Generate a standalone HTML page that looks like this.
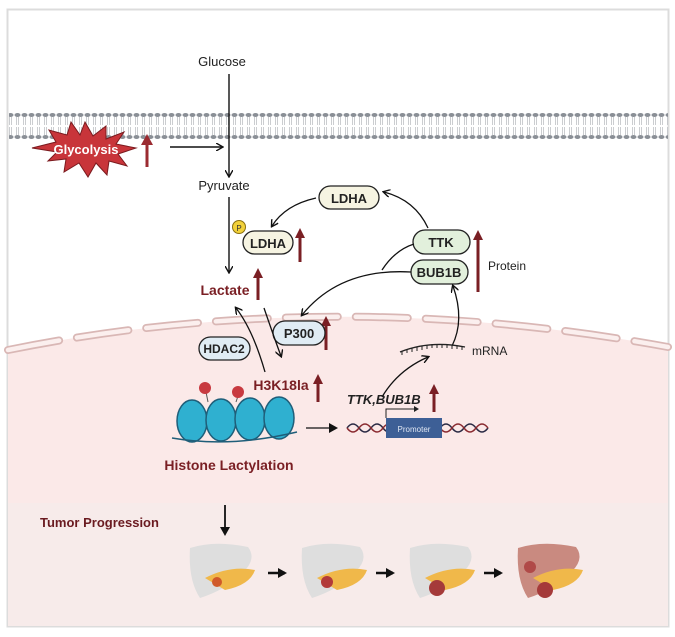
<!DOCTYPE html>
<html><head><meta charset="utf-8"><style>
body{margin:0;background:#fff;}
svg{display:block;font-family:"Liberation Sans",Arial,sans-serif;}
</style></head><body>
<svg width="675" height="637" viewBox="0 0 675 637" xmlns="http://www.w3.org/2000/svg">
<defs>
<marker id="ah" markerWidth="8" markerHeight="8" refX="6" refY="4" orient="auto" markerUnits="userSpaceOnUse"><path d="M0,0 L7,4 L0,8" fill="none" stroke="#111" stroke-width="1.4"/></marker>
<marker id="af" markerWidth="10" markerHeight="10" refX="7" refY="5" orient="auto" markerUnits="userSpaceOnUse"><path d="M0,0 L9,5 L0,10 Z" fill="#111"/></marker>
<pattern id="mem" width="7" height="28" patternUnits="userSpaceOnUse">
<ellipse cx="3.5" cy="3" rx="3" ry="2" fill="#8a8f96"/>
<ellipse cx="3.5" cy="25" rx="3" ry="2" fill="#8a8f96"/>
<path d="M2.5,5 L2.5,13 M4.5,5 L4.5,13 M2.5,15 L2.5,23 M4.5,15 L4.5,23" stroke="#b5b8bd" stroke-width="0.7"/>
</pattern>
</defs>
<rect x="0" y="0" width="675" height="637" fill="#fff"/>
<rect x="7.5" y="9.5" width="661" height="617" fill="#fff" stroke="#dcdcdc" stroke-width="2"/>
<path d="M8,350 Q330,285 668,347 L668,503 L8,503 Z" fill="#fbe9e8"/>
<rect x="8" y="503" width="660" height="123" fill="#f7ebea"/>
<path d="M8,350 Q330,285 668,347" fill="none" stroke="#d9b7b5" stroke-width="8" stroke-dasharray="52,18" stroke-linecap="round"/>
<path d="M8,350 Q330,285 668,347" fill="none" stroke="#fbefee" stroke-width="4.5" stroke-dasharray="52,18" stroke-linecap="round"/>
<rect x="9" y="113" width="659" height="28" fill="url(#mem)"/>
<text x="222" y="66" font-size="13" text-anchor="middle" fill="#222">Glucose</text>
<line x1="229" y1="74" x2="229" y2="176" stroke="#111" stroke-width="1.4" marker-end="url(#ah)"/>
<polygon points="85,122 93,136 106,126 106,139 124,132 116,144 136,148 118,154 127,166 109,161 107,175 96,163 88,177 79,163 64,172 66,159 48,161 57,152 32,148 56,142 49,130 67,135 71,122 80,135" fill="#c8353a" stroke="#7a1a1e" stroke-width="1"/>
<text x="86" y="154" font-size="13" font-weight="bold" text-anchor="middle" fill="#fff">Glycolysis</text>
<line x1="147" y1="167" x2="147" y2="143" stroke="#9b2b31" stroke-width="3"/>
<polygon points="141,145 147,134 153,145" fill="#9b2b31"/>
<line x1="170" y1="147" x2="222" y2="147" stroke="#111" stroke-width="1.4" marker-end="url(#ah)"/>
<text x="224" y="190" font-size="13" text-anchor="middle" fill="#222">Pyruvate</text>
<line x1="229" y1="197" x2="229" y2="272" stroke="#111" stroke-width="1.4" marker-end="url(#ah)"/>
<text x="225" y="295" font-size="14" font-weight="bold" text-anchor="middle" fill="#7a1f24">Lactate</text>
<g fill="#7a1f24" stroke="#7a1f24">
<line x1="258" y1="300" x2="258" y2="276" stroke-width="3"/><polygon points="253,278 258,268 263,278" stroke="none"/>
<line x1="300" y1="262" x2="300" y2="236" stroke-width="3"/><polygon points="295,238 300,228 305,238" stroke="none"/>
<line x1="478" y1="292" x2="478" y2="238" stroke-width="3"/><polygon points="473,240 478,230 483,240" stroke="none"/>
<line x1="326" y1="350" x2="326" y2="324" stroke-width="3"/><polygon points="321,326 326,316 331,326" stroke="none"/>
<line x1="318" y1="402" x2="318" y2="382" stroke-width="3"/><polygon points="313,384 318,374 323,384" stroke="none"/>
<line x1="434" y1="412" x2="434" y2="392" stroke-width="3"/><polygon points="429,394 434,384 439,394" stroke="none"/>
</g>
<rect x="319" y="186" width="60" height="23" rx="11.5" fill="#f6f4e2" stroke="#222" stroke-width="1.3"/>
<text x="349" y="203" font-size="13" font-weight="bold" text-anchor="middle" fill="#222">LDHA</text>
<rect x="243" y="231" width="50" height="23" rx="11.5" fill="#f6f4e2" stroke="#222" stroke-width="1.3"/>
<text x="268" y="248" font-size="13" font-weight="bold" text-anchor="middle" fill="#222">LDHA</text>
<circle cx="239" cy="227" r="6.5" fill="#f2d13a" stroke="#8a7010" stroke-width="1"/>
<text x="239" y="231" font-size="8" text-anchor="middle" fill="#333">P</text>
<rect x="413" y="230" width="57" height="24" rx="12" fill="#e2f0dc" stroke="#222" stroke-width="1.3"/>
<text x="441" y="247" font-size="13" font-weight="bold" text-anchor="middle" fill="#222">TTK</text>
<rect x="411" y="260" width="57" height="24" rx="12" fill="#e2f0dc" stroke="#222" stroke-width="1.3"/>
<text x="439" y="277" font-size="13" font-weight="bold" text-anchor="middle" fill="#222">BUB1B</text>
<text x="488" y="270" font-size="12" fill="#222">Protein</text>
<rect x="273" y="321" width="52" height="24" rx="12" fill="#e0ecf4" stroke="#222" stroke-width="1.3"/>
<text x="299" y="338" font-size="13" font-weight="bold" text-anchor="middle" fill="#222">P300</text>
<rect x="199" y="337" width="51" height="23" rx="11.5" fill="#e0ecf4" stroke="#222" stroke-width="1.3"/>
<text x="224" y="353" font-size="12" font-weight="bold" text-anchor="middle" fill="#222">HDAC2</text>
<g fill="none" stroke="#111" stroke-width="1.3">
<path d="M428,228 Q415,200 384,192" marker-end="url(#ah)"/>
<path d="M316,198 Q285,205 272,226" marker-end="url(#ah)"/>
<path d="M411,272 Q340,268 302,315" marker-end="url(#ah)"/>
<path d="M382,270 Q395,250 414,244"/>
<path d="M452,346 Q465,320 453,286" marker-end="url(#ah)"/>
<path d="M382,397 Q398,370 428,357" marker-end="url(#ah)"/>
<path d="M264,308 Q275,340 281,356" marker-end="url(#ah)"/>
<path d="M265,372 Q253,330 236,308" marker-end="url(#ah)"/>
<path d="M306,428 L336,428" marker-end="url(#af)"/>
</g>
<path d="M400,352 Q430,340 465,347" fill="none" stroke="#222" stroke-width="1.4"/>
<path d="M402,351 l0,4 M407,349 l0,4 M412,348 l0,4 M417,347 l0,4 M422,346 l0,4 M427,345 l0,4 M432,344 l0,4 M437,344 l0,4 M442,344 l0,4 M447,344 l0,4 M452,345 l0,4 M457,345 l0,4 M462,346 l0,4" stroke="#222" stroke-width="1"/>
<text x="472" y="355" font-size="12" fill="#222">mRNA</text>
<text x="281" y="390" font-size="14" font-weight="bold" text-anchor="middle" fill="#7a1f24">H3K18la</text>
<text x="347" y="404" font-size="13" font-weight="bold" font-style="italic" fill="#222">TTK,BUB1B</text>
<g fill="none" stroke-width="1.5">
<path d="M347,428 q6,-8 12,0 t12,0 t12,0 t12,0" stroke="#2a2a44"/>
<path d="M347,428 q6,8 12,0 t12,0 t12,0 t12,0" stroke="#8a2a30"/>
<path d="M440,428 q6,-8 12,0 t12,0 t12,0 t12,0" stroke="#2a2a44"/>
<path d="M440,428 q6,8 12,0 t12,0 t12,0 t12,0" stroke="#8a2a30"/>
</g>
<rect x="386" y="418" width="56" height="20" fill="#3d5f96"/>
<text x="414" y="432" font-size="8" text-anchor="middle" fill="#dfe6f2">Promoter</text>
<path d="M386,418 L386,409 L416,409" fill="none" stroke="#222" stroke-width="1"/>
<polygon points="414,406 419,409 414,412" fill="#222"/>
<g stroke="#1f5e79" stroke-width="1.5">
<ellipse cx="192" cy="421" rx="15" ry="21" fill="#2fb0d0"/>
<ellipse cx="221" cy="420" rx="15" ry="21" fill="#2fb0d0"/>
<ellipse cx="250" cy="419" rx="15" ry="21" fill="#2fb0d0"/>
<ellipse cx="279" cy="418" rx="15" ry="21" fill="#2fb0d0"/>
</g>
<path d="M172,438 Q230,448 297,432" fill="none" stroke="#1f5e79" stroke-width="1.5"/>
<line x1="206" y1="392" x2="208" y2="402" stroke="#555"/><line x1="238" y1="396" x2="236" y2="402" stroke="#555"/>
<circle cx="205" cy="388" r="6" fill="#c83a40"/><circle cx="238" cy="392" r="6" fill="#c83a40"/>
<text x="229" y="470" font-size="14" font-weight="bold" text-anchor="middle" fill="#7a1f24">Histone Lactylation</text>
<text x="40" y="527" font-size="13" font-weight="bold" fill="#6a1a20">Tumor Progression</text>
<line x1="225" y1="505" x2="225" y2="534" stroke="#111" stroke-width="1.8" marker-end="url(#af)"/>
<g>
<path d="M190,548 Q215,540 248,547 Q258,560 240,575 Q225,590 200,598 Q188,580 190,548Z" fill="#dedede"/>
<path d="M205,578 Q230,565 255,570 Q250,585 225,590 Z" fill="#f0b84a"/>
<circle cx="217" cy="582" r="5" fill="#d05a2a"/>
<path d="M302,548 Q327,540 360,547 Q370,560 352,575 Q337,590 312,598 Q300,580 302,548Z" fill="#dedede"/>
<path d="M317,578 Q342,565 367,570 Q362,585 337,590 Z" fill="#f0b84a"/>
<circle cx="327" cy="582" r="6" fill="#b23a3a"/>
<path d="M410,548 Q435,540 468,547 Q478,560 460,575 Q445,590 420,598 Q408,580 410,548Z" fill="#dedede"/>
<path d="M425,578 Q450,565 475,570 Q470,585 445,590 Z" fill="#f0b84a"/>
<circle cx="437" cy="588" r="8" fill="#a53a3a"/>
<path d="M518,548 Q543,540 576,547 Q586,560 568,575 Q553,590 528,598 Q516,580 518,548Z" fill="#c98a80"/>
<path d="M533,578 Q558,565 583,570 Q578,585 553,590 Z" fill="#f0b84a"/>
<circle cx="545" cy="590" r="8" fill="#a53a3a"/><circle cx="530" cy="567" r="6" fill="#b04a48"/>
</g>
<g stroke="#111" stroke-width="2.5">
<line x1="268" y1="573" x2="285" y2="573" marker-end="url(#af)"/>
<line x1="376" y1="573" x2="393" y2="573" marker-end="url(#af)"/>
<line x1="484" y1="573" x2="501" y2="573" marker-end="url(#af)"/>
</g>
</svg>
</body></html>
